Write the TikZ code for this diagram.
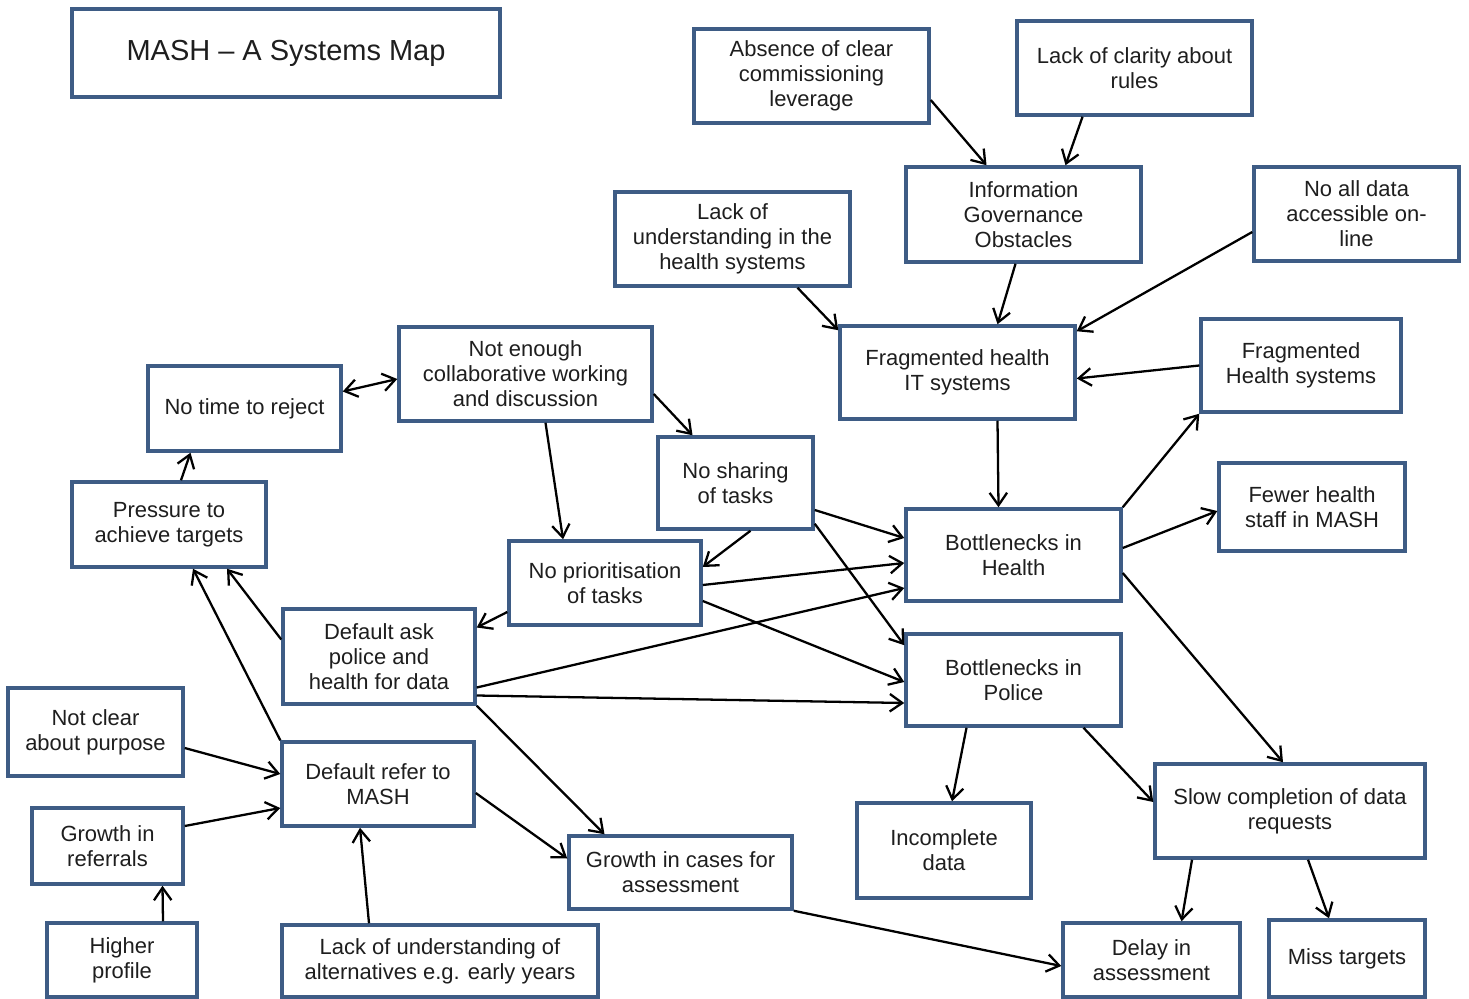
\documentclass[tikz,border=0pt]{standalone}
\usepackage{fontspec}
\setmainfont{Liberation Sans}
\usetikzlibrary{arrows.meta}
\definecolor{cadre}{HTML}{3E5C85}
\definecolor{texte}{HTML}{1E1E1E}
\tikzset{
  >={Straight Barb[length=2.5mm,width=3.5mm]},
  bloc/.style={rectangle, draw=cadre, line width=2pt, fill=white, align=center,
               font=\fontsize{12.5}{14.2}\selectfont, text=texte, inner sep=2pt},
  fleche/.style={->, line width=1.3pt, draw=black},
}
\begin{document}
\begin{tikzpicture}[x=0.02cm, y=-0.02cm]
  \useasboundingbox (0,0) rectangle (1469,999);
  % boites
  \node[bloc, minimum width=8.56cm, minimum height=1.76cm, font=\fontsize{16.5}{19}\selectfont] (titre) at (286,53) {MASH -- A Systems Map};
  \node[bloc, minimum width=4.7cm, minimum height=1.88cm] (absence) at (811.5,76) {Absence of clear\\commissioning\\leverage};
  \node[bloc, minimum width=4.7cm, minimum height=1.88cm] (clarity) at (1134.5,68) {Lack of clarity about\\rules};
  \node[bloc, minimum width=4.7cm, minimum height=1.9cm] (infogov) at (1023.5,214.5) {Information\\Governance\\Obstacles};
  \node[bloc, minimum width=4.1cm, minimum height=1.88cm] (nodata) at (1356.5,214) {No all data\\accessible on-\\line};
  \node[bloc, minimum width=4.7cm, minimum height=1.88cm] (lackhealth) at (732.5,239) {Lack of\\understanding in the\\health systems};
  \node[bloc, minimum width=4.7cm, minimum height=1.86cm] (fragit) at (957.5,372.5) {Fragmented health\\IT systems};
  \node[bloc, minimum width=4cm, minimum height=1.86cm] (fraghealth) at (1301,365.5) {Fragmented\\Health systems};
  \node[bloc, minimum width=5.06cm, minimum height=1.88cm] (collab) at (525.5,374) {Not enough\\collaborative working\\and discussion};
  \node[bloc, minimum width=3.86cm, minimum height=1.7cm] (notime) at (244.5,408.5) {No time to reject};
  \node[bloc, minimum width=3.1cm, minimum height=1.84cm] (sharing) at (735.5,483) {No sharing\\of tasks};
  \node[bloc, minimum width=3.88cm, minimum height=1.7cm] (pressure) at (169,524.5) {Pressure to\\achieve targets};
  \node[bloc, minimum width=4.3cm, minimum height=1.84cm] (bneckh) at (1013.5,555) {Bottlenecks in\\Health};
  \node[bloc, minimum width=3.72cm, minimum height=1.76cm] (fewer) at (1312,507) {Fewer health\\staff in MASH};
  \node[bloc, minimum width=3.84cm, minimum height=1.68cm] (prior) at (605,583) {No prioritisation\\of tasks};
  \node[bloc, minimum width=3.84cm, minimum height=1.9cm] (defask) at (379,656.5) {Default ask\\police and\\health for data};
  \node[bloc, minimum width=4.3cm, minimum height=1.84cm] (bneckp) at (1013.5,680) {Bottlenecks in\\Police};
  \node[bloc, minimum width=3.5cm, minimum height=1.76cm] (notclear) at (95.5,732) {Not clear\\about purpose};
  \node[bloc, minimum width=3.84cm, minimum height=1.68cm] (defref) at (378,784) {Default refer to\\MASH};
  \node[bloc, minimum width=3.02cm, minimum height=1.52cm] (growthref) at (107.5,846) {Growth in\\referrals};
  \node[bloc, minimum width=3.48cm, minimum height=1.9cm] (incomplete) at (944,850.5) {Incomplete\\data};
  \node[bloc, minimum width=5.4cm, minimum height=1.88cm] (slow) at (1290,811) {Slow completion of data\\requests};
  \node[bloc, minimum width=4.46cm, minimum height=1.46cm] (growthcases) at (680.5,872.5) {Growth in cases for\\assessment};
  \node[bloc, minimum width=3cm, minimum height=1.48cm] (higher) at (122,960) {Higher\\profile};
  \node[bloc, minimum width=6.32cm, minimum height=1.44cm] (lackalt) at (440,961) {Lack of understanding of\\alternatives e.g. early years};
  \node[bloc, minimum width=3.54cm, minimum height=1.48cm] (delay) at (1151.5,960) {Delay in\\assessment};
  \node[bloc, minimum width=3.12cm, minimum height=1.54cm] (miss) at (1347,958.5) {Miss targets};
  % liens
  \draw[fleche] ([shift={(0,24)}]absence.east) -- ([shift={(-37,0)}]infogov.north);
  \draw[fleche] ([shift={(-52,0)}]clarity.south) -- ([shift={(42,0)}]infogov.north);
  \draw[fleche] ([shift={(-8,0)}]infogov.south) -- ([shift={(40,0)}]fragit.north);
  \draw[fleche] ([shift={(0,18)}]nodata.west) -- ([shift={(0,7)}]fragit.north east);
  \draw[fleche] ([shift={(65,0)}]lackhealth.south) -- ([shift={(0,6)}]fragit.north west);
  \draw[fleche] (fraghealth.west) -- ([shift={(0,6)}]fragit.east);
  \draw[fleche] ([shift={(40,0)}]fragit.south) -- ([shift={(-15,0)}]bneckh.north);
  \draw[fleche] (bneckh.north east) -- (fraghealth.south west);
  \draw[fleche] ([shift={(0,-7)}]bneckh.east) -- ([shift={(0,4)}]fewer.west);
  \draw[fleche] ([shift={(0,18)}]bneckh.east) -- ([shift={(-7,0)}]slow.north);
  \draw[fleche, <->] ([shift={(0,-17)}]notime.east) -- ([shift={(0,5)}]collab.west);
  \draw[fleche] ([shift={(0,20)}]collab.east) -- ([shift={(-43,0)}]sharing.north);
  \draw[fleche] ([shift={(20,0)}]collab.south) -- ([shift={(-42,0)}]prior.north);
  \draw[fleche] ([shift={(15,0)}]sharing.south) -- ([shift={(0,-16)}]prior.east);
  \draw[fleche] ([shift={(0,27)}]sharing.east) -- ([shift={(0,-17)}]bneckh.west);
  \draw[fleche] ([shift={(0,-7)}]sharing.south east) -- ([shift={(0,13)}]bneckp.north west);
  \draw[fleche] ([shift={(0,2)}]prior.east) -- ([shift={(0,8)}]bneckh.west);
  \draw[fleche] ([shift={(0,18)}]prior.east) -- ([shift={(0,2)}]bneckp.west);
  \draw[fleche] ([shift={(0,29)}]prior.west) -- ([shift={(0,-29)}]defask.east);
  \draw[fleche] ([shift={(0,31)}]defask.east) -- ([shift={(0,33)}]bneckh.west);
  \draw[fleche] ([shift={(0,39)}]defask.east) -- ([shift={(0,23)}]bneckp.west);
  \draw[fleche] ([shift={(0,-17)}]defask.west) -- ([shift={(58,0)}]pressure.south);
  \draw[fleche] (defask.south east) -- ([shift={(-76,0)}]growthcases.north);
  \draw[fleche] (defref.north west) -- ([shift={(24,0)}]pressure.south);
  \draw[fleche] ([shift={(12,0)}]pressure.north) -- ([shift={(-54,0)}]notime.south);
  \draw[fleche] ([shift={(0,16)}]notclear.east) -- ([shift={(0,-10)}]defref.west);
  \draw[fleche] ([shift={(0,-20)}]growthref.east) -- ([shift={(0,24)}]defref.west);
  \draw[fleche] ([shift={(41,0)}]higher.north) -- ([shift={(55,0)}]growthref.south);
  \draw[fleche] ([shift={(-71,0)}]lackalt.north) -- ([shift={(-18,0)}]defref.south);
  \draw[fleche] ([shift={(0,9)}]defref.east) -- ([shift={(0,-14)}]growthcases.west);
  \draw[fleche] (growthcases.south east) -- ([shift={(0,6)}]delay.west);
  \draw[fleche] ([shift={(-47,0)}]bneckp.south) -- ([shift={(8,0)}]incomplete.north);
  \draw[fleche] ([shift={(70,0)}]bneckp.south) -- ([shift={(0,-9)}]slow.west);
  \draw[fleche] ([shift={(-98,0)}]slow.south) -- ([shift={(30,0)}]delay.north);
  \draw[fleche] ([shift={(18,0)}]slow.south) -- ([shift={(-18,0)}]miss.north);
\end{tikzpicture}
\end{document}
